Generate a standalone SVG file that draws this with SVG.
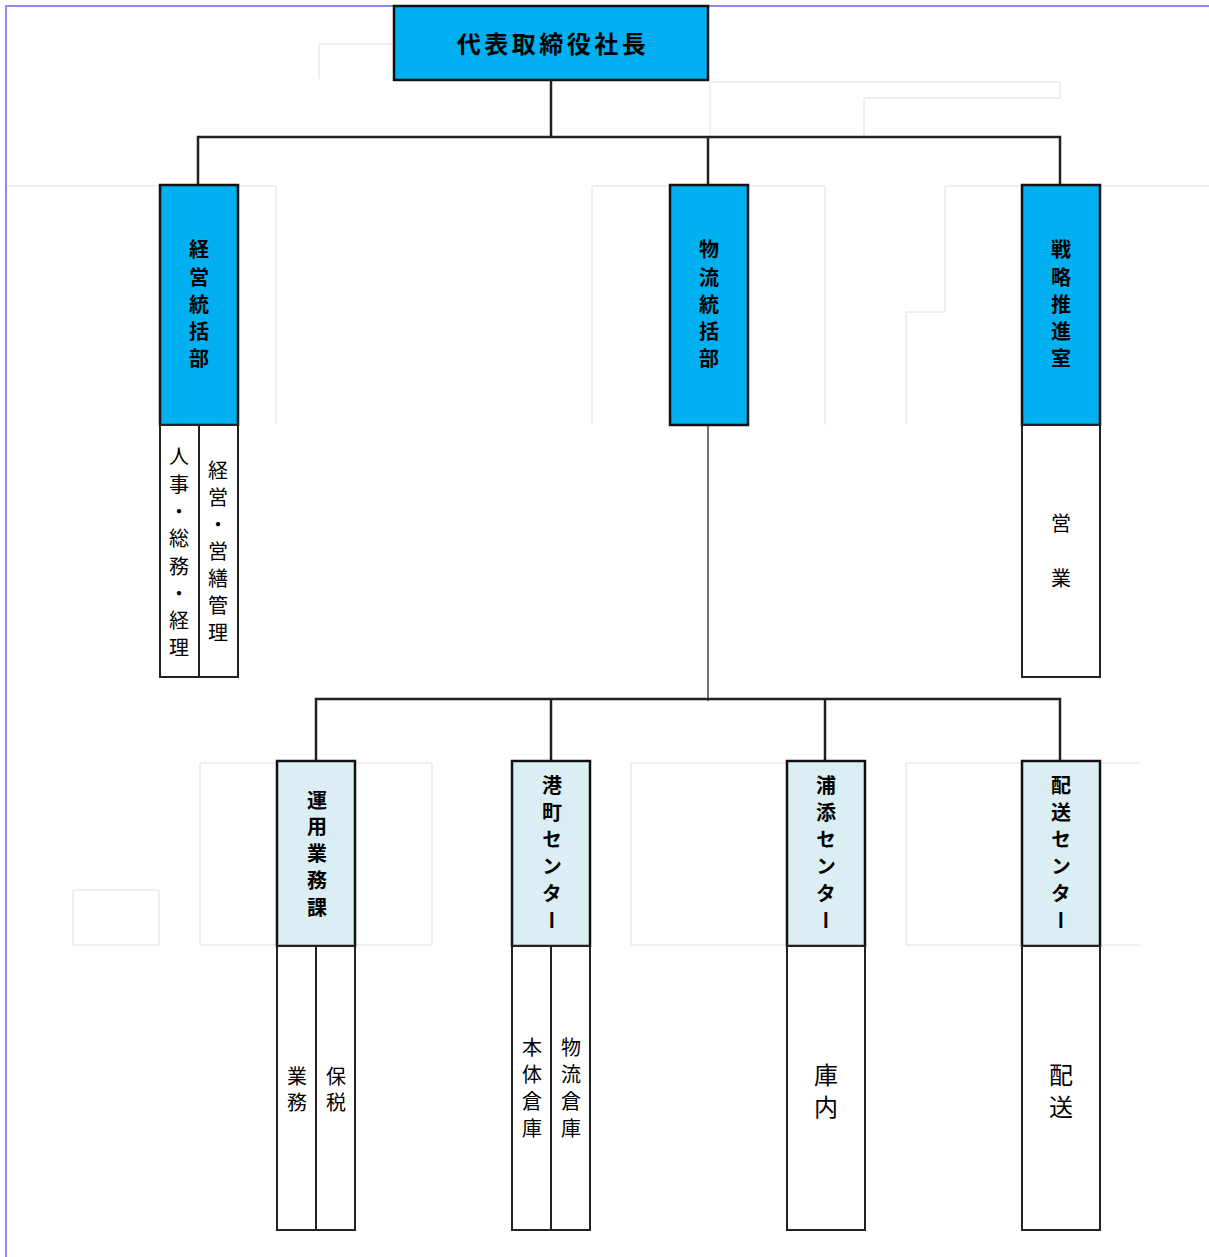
<svg xmlns="http://www.w3.org/2000/svg" width="1209" height="1257" viewBox="0 0 1209 1257">
<style>
.bg{fill:#ffffff}
.frame{fill:none;stroke:#8c8cea;stroke-width:2}
.grid{fill:none;stroke:#e0e0e0;stroke-width:1}
.head{fill:#00b0f0;stroke:#111;stroke-width:2.5}
.sub{fill:#daeef3;stroke:#111;stroke-width:2.5}
.cell{fill:#ffffff;stroke:#222;stroke-width:2}
.conn{fill:none;stroke:#222;stroke-width:2.5}
.thin{fill:none;stroke:#444;stroke-width:1.5}
text{font-family:"Noto Sans CJK JP","Noto Sans CJK SC",sans-serif;fill:#000}
.t-title{font-size:24px;font-weight:bold;letter-spacing:3.5px}
.vb{font-size:20px;font-weight:bold;writing-mode:vertical-rl;text-anchor:middle}
.vr{font-size:20px;writing-mode:vertical-rl;text-anchor:middle}
.vl{font-size:24px;writing-mode:vertical-rl;text-anchor:middle}
</style>
<rect class="bg" x="0" y="0" width="1209" height="1257"/>
<g id="grid">
<path class="grid" d="M319,44 H394 M319,44 V79"/>
<path class="grid" d="M710,82 H1060 V98 M864,98 H1060 M864,98 V135 M710,82 V135"/>
<path class="grid" d="M7,186 H160 M238,186 H276 V425"/>
<path class="grid" d="M592,186 H670 M748,186 H825 M592,186 V425 M825,186 V425"/>
<path class="grid" d="M945,186 H1022 M1100,186 H1209 M945,186 V312 H906 V425"/>
<path class="grid" d="M200,763 H277 M355,763 H432 V945 H355 M200,763 V945 H277"/>
<path class="grid" d="M73,890 H159 V945 H73 Z"/>
<path class="grid" d="M631,763 H787 M631,763 V945 H787"/>
<path class="grid" d="M906,763 H1022 M1100,763 H1140 M906,763 V945 H1022 M1100,945 H1140"/>
</g>
<path class="frame" d="M6,1257 V6 H1209"/>
<g id="connectors">
<path class="conn" d="M551,80 V137 M198,185 V137 H1060 V185 M708,137 V185"/>
<path class="thin" d="M708,425 V701"/>
<path class="conn" d="M316,761 V699 H1060 V761 M551,699 V761 M825,699 V761"/>
</g>
<g id="president">
<rect class="head" x="394" y="6" width="314" height="74"/>
<text class="t-title" x="553" y="53" text-anchor="middle">代表取締役社長</text>
</g>
<g id="keiei">
<rect class="head" x="160" y="185" width="78" height="240"/>
<text class="vb" x="199" y="308" style="letter-spacing:7.25px">経営統括部</text>
</g>
<g id="keiei-sub">
<rect class="cell" x="160" y="425" width="39" height="252"/>
<rect class="cell" x="199" y="425" width="39" height="252"/>
<text class="vr" x="179" y="556" style="letter-spacing:7.3px">人事・総務・経理</text>
<text class="vr" x="218" y="554.5" style="letter-spacing:7px">経営・営繕管理</text>
</g>
<g id="butsuryu">
<rect class="head" x="670" y="185" width="78" height="240"/>
<text class="vb" x="709" y="308" style="letter-spacing:7.25px">物流統括部</text>
</g>
<g id="senryaku">
<rect class="head" x="1022" y="185" width="78" height="240"/>
<text class="vb" x="1061" y="308" style="letter-spacing:7.25px">戦略推進室</text>
</g>
<g id="senryaku-sub">
<rect class="cell" x="1022" y="425" width="78" height="252"/>
<text class="vr" x="1061" y="568" style="letter-spacing:35px">営業</text>
</g>
<g id="unyo">
<rect class="sub" x="277" y="761" width="78" height="185"/>
<text class="vb" x="317" y="857" style="letter-spacing:6.75px">運用業務課</text>
</g>
<g id="unyo-sub">
<rect class="cell" x="277" y="946" width="39" height="284"/>
<rect class="cell" x="316" y="946" width="39" height="284"/>
<text class="vr" x="297" y="1092" style="letter-spacing:6px">業務</text>
<text class="vr" x="336" y="1092" style="letter-spacing:6px">保税</text>
</g>
<g id="minatomachi">
<rect class="sub" x="512" y="761" width="78" height="185"/>
<text class="vb" x="552" y="856" style="letter-spacing:7px">港町センター</text>
</g>
<g id="minatomachi-sub">
<rect class="cell" x="512" y="946" width="39" height="284"/>
<rect class="cell" x="551" y="946" width="39" height="284"/>
<text class="vr" x="532" y="1091" style="letter-spacing:7px">本体倉庫</text>
<text class="vr" x="571" y="1091" style="letter-spacing:7px">物流倉庫</text>
</g>
<g id="urasoe">
<rect class="sub" x="787" y="761" width="78" height="185"/>
<text class="vb" x="826" y="856" style="letter-spacing:7px">浦添センター</text>
</g>
<g id="urasoe-sub">
<rect class="cell" x="787" y="946" width="78" height="284"/>
<text class="vl" x="826" y="1095" style="letter-spacing:8px">庫内</text>
</g>
<g id="haiso">
<rect class="sub" x="1022" y="761" width="78" height="185"/>
<text class="vb" x="1061" y="856" style="letter-spacing:7px">配送センター</text>
</g>
<g id="haiso-sub">
<rect class="cell" x="1022" y="946" width="78" height="284"/>
<text class="vl" x="1061" y="1095" style="letter-spacing:8px">配送</text>
</g>
</svg>
